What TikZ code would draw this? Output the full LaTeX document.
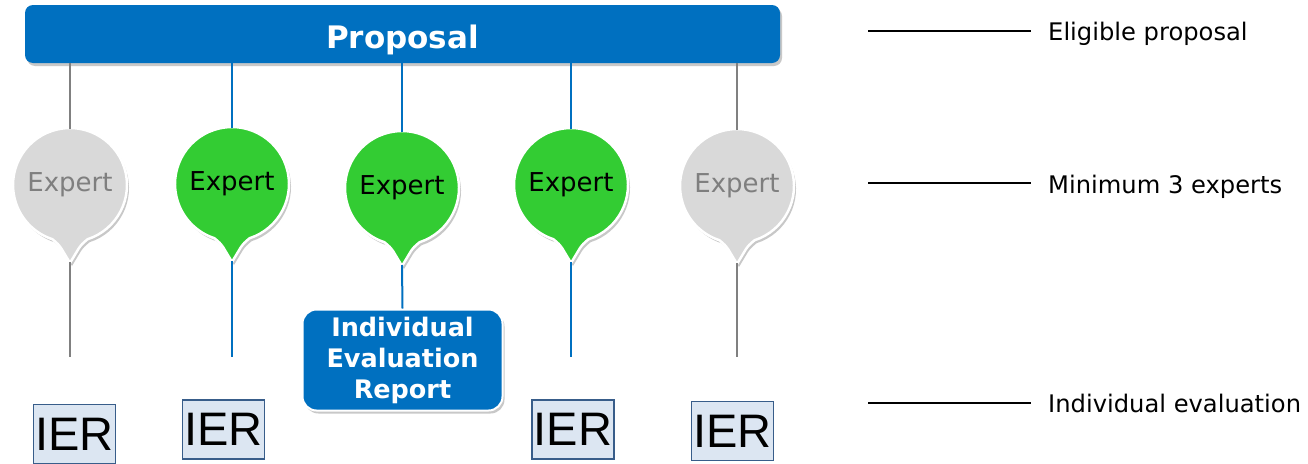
\documentclass[tikz,border=0pt]{standalone}
\usepackage{fontspec}
\setmainfont{DejaVu Sans}
\newfontfamily\arialf{Liberation Sans}
\usetikzlibrary{shadows}
\definecolor{pblue}{HTML}{0070C0}
\definecolor{pgreen}{HTML}{33CC33}
\definecolor{pgray}{HTML}{D9D9D9}
\definecolor{ptxtgray}{HTML}{7F7F7F}
\definecolor{lgray}{HTML}{808080}
\definecolor{ierfill}{HTML}{DCE6F2}
\definecolor{ierdraw}{HTML}{385D8A}
\newcommand\bubblepath[3]{% x, y, style
  \path[#3] (#1,#2) ++(-72:57) arc[start angle=-72,end angle=252,radius=57]
    .. controls (#1-12,#2-59) .. (#1-9,#2-63) -- (#1,#2-78) -- (#1+9,#2-63)
    .. controls (#1+12,#2-59) .. cycle;
}
\begin{document}
\begin{tikzpicture}[x=1pt,y=1pt,
  shd/.style={drop shadow={shadow xshift=2pt,shadow yshift=-3pt,opacity=0.3,fill=black!70}},
  bubgreen/.style={fill=pgreen,draw=white,line width=2.5pt,shd},
  bubgray/.style={fill=pgray,draw=white,line width=2.5pt,shd},
  expg/.style={circle,minimum size=114pt,inner sep=0pt,font=\fontsize{26}{30}\selectfont,text=black},
  expy/.style={circle,minimum size=114pt,inner sep=0pt,font=\fontsize{26}{30}\selectfont,text=ptxtgray},
  propbox/.style={rectangle,rounded corners=8pt,fill=pblue,minimum width=755pt,minimum height=58pt,
    text=white,font=\bfseries\fontsize{31}{36}\selectfont,text height=28pt,text depth=0pt,shd},
  repbox/.style={rectangle,rounded corners=14pt,fill=pblue,draw=white,line width=2pt,minimum width=200pt,
    minimum height=101pt,text=white,align=center,inner sep=0pt,font=\bfseries\fontsize{25.5}{31}\selectfont,shd},
  ierbox/.style={rectangle,fill=ierfill,draw=ierdraw,line width=1.5pt,minimum width=82pt,minimum height=59pt,
    inner sep=0pt,font=\arialf\fontsize{47}{50}\selectfont},
  bline/.style={pblue,line width=2pt},
  gline/.style={lgray,line width=2pt},
  labline/.style={black,line width=2.5pt},
  lab/.style={anchor=base west,inner sep=0pt,font=\fontsize{24.2}{28}\selectfont}
]
\useasboundingbox (0,0) rectangle (1308,-463);
\fill[white] (0,0) rectangle (1308,-463);

% proposal
\node[propbox] (prop) at (402.5,-34) {Proposal};

\path (70,-185) coordinate (c1) (232,-184) coordinate (c2) (402,-188) coordinate (c3)
      (571,-185) coordinate (c4) (737,-186) coordinate (c5);

% connector coordinates
\coordinate (t1) at (70,-262);
\coordinate (t2) at (232,-261);
\coordinate (t3) at (402,-265);
\coordinate (t4) at (571,-262);
\coordinate (t5) at (737,-263);
\coordinate (b1) at (70,-357);
\coordinate (b2) at (232,-357);
\coordinate (b4) at (571,-357);
\coordinate (b5) at (737,-357);

% bubbles
\bubblepath{70}{-185}{bubgray}
\bubblepath{232}{-184}{bubgreen}
\bubblepath{402}{-188}{bubgreen}
\bubblepath{571}{-185}{bubgreen}
\bubblepath{737}{-186}{bubgray}

\node[expy] (e1) at (c1) {Expert};
\node[expg] (e2) at (c2) {Expert};
\node[expg] (e3) at (c3) {Expert};
\node[expg] (e4) at (c4) {Expert};
\node[expy] (e5) at (c5) {Expert};

% report box
\node[repbox] (rep) at (402.5,-360) {Individual\\Evaluation\\Report};

% top connectors
\draw[gline] (prop.south -| e1.north) -- ([yshift=-1pt]e1.north);
\draw[bline] (prop.south -| e2.north) -- ([yshift=-1pt]e2.north);
\draw[bline] (prop.south -| e3.north) -- ([yshift=-1pt]e3.north);
\draw[bline] (prop.south -| e4.north) -- ([yshift=-1pt]e4.north);
\draw[gline] (prop.south -| e5.north) -- ([yshift=-1pt]e5.north);

% bottom connectors
\draw[gline] (t1) -- (b1);
\draw[bline] (t2) -- (b2);
\draw[bline] (t3) -- (rep.north);
\draw[bline] (t4) -- (b4);
\draw[gline] (t5) -- (b5);

% IER boxes
\node[ierbox] (i1) at (74.5,-434) {IER};
\node[ierbox] (i2) at (223.5,-429.5) {IER};
\node[ierbox] (i3) at (573,-429.5) {IER};
\node[ierbox] (i4) at (732.5,-431) {IER};

% right labels
\node[lab] (l1) at (1048,-40) {Eligible proposal};
\node[lab] (l2) at (1048,-193) {Minimum 3 experts};
\node[lab] (l3) at (1048,-412) {Individual evaluation};
\coordinate (m1) at (868,-31);
\coordinate (m2) at (868,-183);
\coordinate (m3) at (868,-403);
\draw[labline,shorten >=17pt] (m1) -- (m1 -| l1.west);
\draw[labline,shorten >=17pt] (m2) -- (m2 -| l2.west);
\draw[labline,shorten >=17pt] (m3) -- (m3 -| l3.west);
\end{tikzpicture}
\end{document}
